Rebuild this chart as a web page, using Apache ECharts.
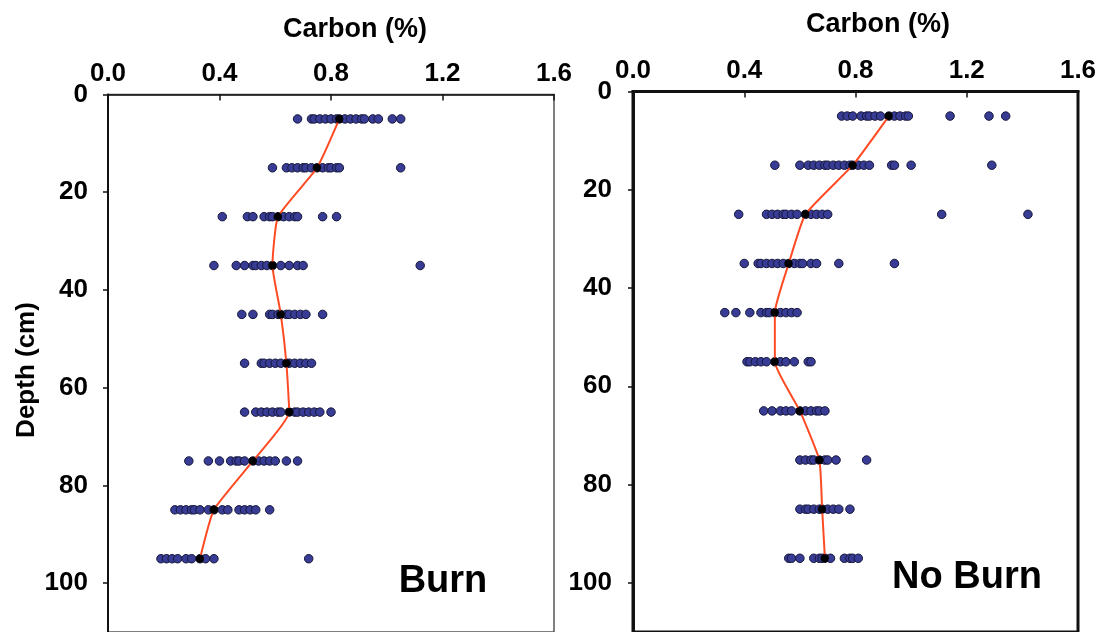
<!DOCTYPE html>
<html>
<head>
<meta charset="utf-8">
<script src="https://cdn.jsdelivr.net/npm/echarts@6/dist/echarts.min.js"></script>
<style>
  html, body { margin: 0; padding: 0; background: #fff; }
  #chart { width: 1101px; height: 632px; }
</style>
</head>
<body>
<div id="chart"></div>
<script>
// Sampling depths (cm), one row of cores per depth interval
const depths = [5, 15, 25, 35, 45, 55, 65, 75, 85, 95];

// Carbon (%) per core, burned plots, one list per depth
const burnCarbon = [
  [0.68, 0.73, 0.74, 0.76, 0.78, 0.80, 0.82, 0.83, 0.85, 0.87, 0.89, 0.91, 0.92, 0.95, 0.97, 1.02, 1.05],
  [0.59, 0.64, 0.66, 0.68, 0.70, 0.71, 0.73, 0.75, 0.77, 0.79, 0.80, 0.82, 0.83, 1.05],
  [0.41, 0.50, 0.52, 0.56, 0.58, 0.59, 0.61, 0.63, 0.65, 0.67, 0.68, 0.77, 0.82],
  [0.38, 0.46, 0.49, 0.52, 0.53, 0.55, 0.57, 0.59, 0.62, 0.65, 0.68, 0.70, 1.12],
  [0.48, 0.52, 0.58, 0.59, 0.61, 0.62, 0.64, 0.65, 0.67, 0.69, 0.71, 0.77],
  [0.49, 0.55, 0.56, 0.58, 0.60, 0.62, 0.64, 0.65, 0.67, 0.69, 0.71, 0.73],
  [0.49, 0.53, 0.55, 0.57, 0.59, 0.61, 0.62, 0.65, 0.67, 0.68, 0.70, 0.72, 0.74, 0.76, 0.80],
  [0.29, 0.36, 0.40, 0.44, 0.46, 0.47, 0.49, 0.52, 0.54, 0.56, 0.58, 0.60, 0.64, 0.68],
  [0.24, 0.26, 0.28, 0.30, 0.31, 0.33, 0.36, 0.38, 0.41, 0.43, 0.47, 0.49, 0.51, 0.53, 0.58],
  [0.19, 0.21, 0.23, 0.25, 0.28, 0.30, 0.33, 0.35, 0.38, 0.72]
];
// Mean carbon (%) per depth, burned plots
const burnMean = [0.83, 0.75, 0.61, 0.59, 0.62, 0.64, 0.65, 0.52, 0.38, 0.33];

// Carbon (%) per core, unburned plots, one list per depth
const noBurnCarbon = [
  [0.75, 0.77, 0.79, 0.82, 0.84, 0.85, 0.87, 0.89, 0.92, 0.94, 0.96, 0.98, 0.99, 1.14, 1.28, 1.34],
  [0.51, 0.60, 0.63, 0.65, 0.67, 0.69, 0.70, 0.72, 0.74, 0.76, 0.78, 0.79, 0.81, 0.83, 0.85, 0.93, 0.94, 1.00, 1.29],
  [0.38, 0.48, 0.50, 0.52, 0.54, 0.55, 0.57, 0.59, 0.62, 0.64, 0.66, 0.68, 0.70, 1.11, 1.42],
  [0.40, 0.45, 0.46, 0.48, 0.50, 0.52, 0.54, 0.56, 0.58, 0.60, 0.61, 0.64, 0.66, 0.74, 0.94],
  [0.33, 0.37, 0.42, 0.46, 0.48, 0.49, 0.51, 0.53, 0.55, 0.57, 0.59],
  [0.41, 0.42, 0.44, 0.46, 0.48, 0.51, 0.53, 0.55, 0.58, 0.63, 0.64],
  [0.47, 0.50, 0.53, 0.55, 0.57, 0.60, 0.62, 0.64, 0.66, 0.67, 0.69],
  [0.60, 0.62, 0.64, 0.65, 0.67, 0.69, 0.70, 0.73, 0.84],
  [0.60, 0.62, 0.63, 0.65, 0.67, 0.68, 0.70, 0.72, 0.74, 0.78],
  [0.56, 0.57, 0.60, 0.65, 0.67, 0.68, 0.69, 0.71, 0.76, 0.78, 0.79, 0.81]
];
// Mean carbon (%) per depth, unburned plots
const noBurnMean = [0.92, 0.79, 0.62, 0.56, 0.51, 0.51, 0.60, 0.67, 0.68, 0.69];

// Axis tick settings
const carbonTicks = { min: 0, max: 1.6, interval: 0.4 };
const depthTicks = { min: 0, max: 110, interval: 20 };
const panelTitles = ['Burn', 'No Burn'];
const axisTitleX = 'Carbon (%)';
const axisTitleY = 'Depth (cm)';

const FONT = 'Arial, "Liberation Sans", sans-serif';

function pairs(rows) {
  const out = [];
  rows.forEach((row, i) => row.forEach(v => out.push([v, depths[i]])));
  return out;
}
function meanPairs(means) {
  return means.map((v, i) => [v, depths[i]]);
}

function xAxisFor(gridIndex, lineWidth) {
  return {
    gridIndex, type: 'value', position: 'top',
    min: carbonTicks.min, max: carbonTicks.max, interval: carbonTicks.interval,
    axisLine: { show: true, lineStyle: { color: '#111', width: lineWidth } },
    axisTick: { show: true, inside: true, length: 6, lineStyle: { color: '#111', width: 1.5 } },
    axisLabel: {
      margin: 8, color: '#000', fontFamily: FONT, fontWeight: 'bold', fontSize: 26,
      formatter: v => v.toFixed(1)
    },
    splitLine: { show: false }
  };
}
function yAxisFor(gridIndex, lineWidth, margin) {
  return {
    gridIndex, type: 'value', inverse: true,
    min: depthTicks.min, max: depthTicks.max, interval: depthTicks.interval,
    axisLine: { show: true, lineStyle: { color: '#111', width: lineWidth } },
    axisTick: { show: true, inside: false, length: 5, lineStyle: { color: '#111', width: 1.5 } },
    axisLabel: {
      margin, color: '#000', fontFamily: FONT, fontWeight: 'bold', fontSize: 26,
      showMaxLabel: false
    },
    splitLine: { show: false }
  };
}

function scatterSeries(idx, rows) {
  return {
    type: 'scatter', xAxisIndex: idx, yAxisIndex: idx,
    data: pairs(rows), symbol: 'circle', symbolSize: 8.5, z: 2,
    itemStyle: { color: '#383c95', borderColor: '#15173a', borderWidth: 1, opacity: 1 }
  };
}
function meanSeries(idx, means) {
  return {
    type: 'line', xAxisIndex: idx, yAxisIndex: idx,
    data: meanPairs(means), smooth: 0.15, z: 3,
    symbol: 'circle', symbolSize: 8, showSymbol: true,
    lineStyle: { color: '#ff4b24', width: 2 },
    itemStyle: { color: '#000', borderWidth: 0 }
  };
}

const chart = echarts.init(document.getElementById('chart'), null, { renderer: 'canvas' });
chart.setOption({
  backgroundColor: '#fff',
  animation: false,
  grid: [
    { left: 108, top: 94.5, width: 446, height: 543, show: true, borderColor: '#555', borderWidth: 1.5, backgroundColor: 'transparent' },
    { left: 633, top: 91.5, width: 445, height: 543, show: true, borderColor: '#111', borderWidth: 3, backgroundColor: 'transparent' }
  ],
  xAxis: [xAxisFor(0, 1.5), xAxisFor(1, 3)],
  yAxis: [yAxisFor(0, 2, 20), yAxisFor(1, 3, 21)],
  series: [
    scatterSeries(0, burnCarbon),
    meanSeries(0, burnMean),
    scatterSeries(1, noBurnCarbon),
    meanSeries(1, noBurnMean)
  ],
  graphic: [
    { type: 'text', x: 355, y: 30, style: { text: axisTitleX, font: 'bold 27px ' + FONT, fill: '#000', align: 'center', verticalAlign: 'middle' } },
    { type: 'text', x: 878, y: 25, style: { text: axisTitleX, font: 'bold 27px ' + FONT, fill: '#000', align: 'center', verticalAlign: 'middle' } },
    { type: 'text', x: 27, y: 370, rotation: Math.PI / 2, style: { text: axisTitleY, font: 'bold 26px ' + FONT, fill: '#000', align: 'center', verticalAlign: 'middle' } },
    { type: 'text', x: 443, y: 582, style: { text: panelTitles[0], font: 'bold 38px ' + FONT, fill: '#000', align: 'center', verticalAlign: 'middle' } },
    { type: 'text', x: 967, y: 578, style: { text: panelTitles[1], font: 'bold 38px ' + FONT, fill: '#000', align: 'center', verticalAlign: 'middle' } }
  ]
});
</script>
</body>
</html>
